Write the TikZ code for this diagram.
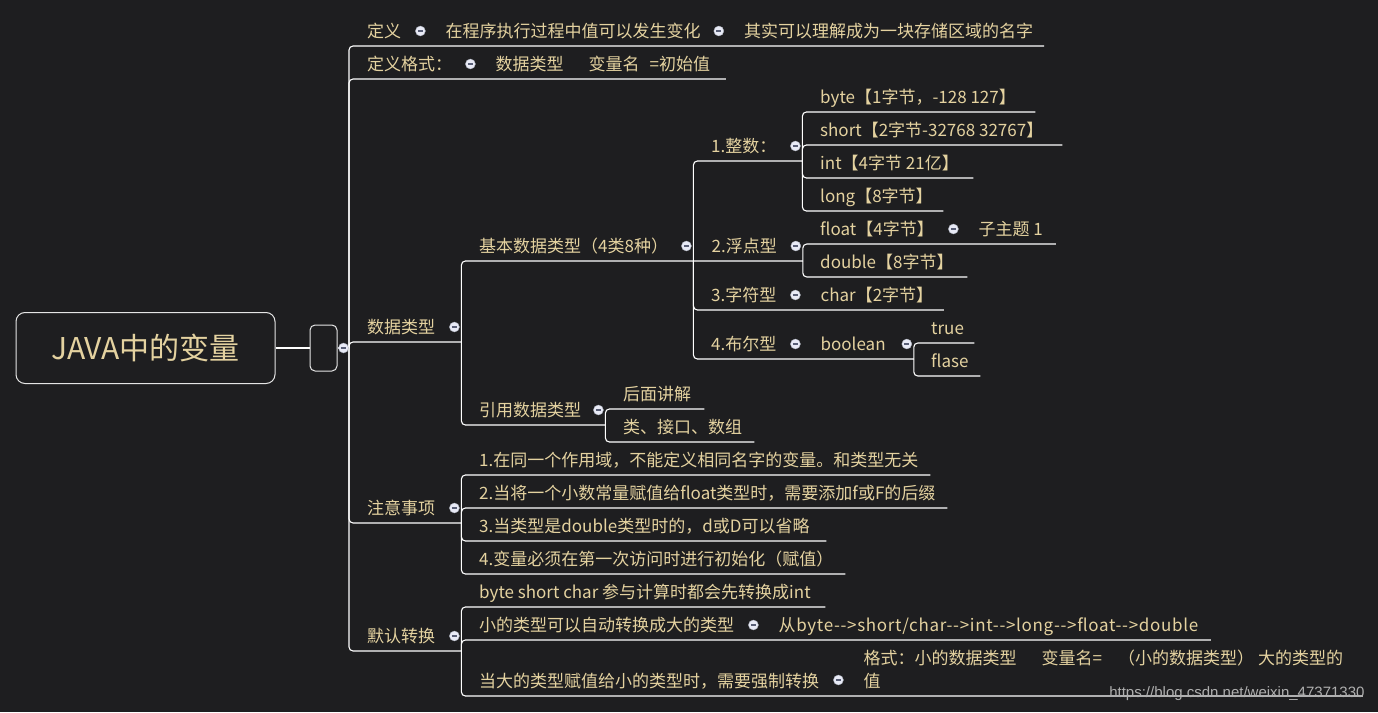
\documentclass[tikz,border=0pt]{standalone}
\usepackage{fontspec}
\setmainfont{Noto Sans CJK SC}
\newfontfamily\urlfont{Liberation Sans}
\usetikzlibrary{calc}
\definecolor{bgdark}{RGB}{30,30,32}
\definecolor{wheat}{RGB}{228,210,160}
\definecolor{foldfill}{RGB}{232,234,246}
\definecolor{foldbar}{RGB}{88,94,118}
\definecolor{markgray}{RGB}{175,175,175}
% topic text padded to the length of its underline
\newcommand{\tpc}[2]{\makebox[#1pt][l]{\hspace*{18pt}#2}}
\tikzset{
  topic/.style={anchor=south west, inner sep=0pt, text height=14pt, text depth=8pt, text=wheat},
  branch/.style={draw=white, line width=1.1pt, rounded corners=4pt},
  fold/.style={circle, fill=foldfill, draw=foldbar!50, line width=0.4pt, inner sep=0pt, minimum size=10pt,
    path picture={\draw[foldbar, line width=1.3pt] ([xshift=-2.6pt]path picture bounding box.center) -- ([xshift=2.6pt]path picture bounding box.center);}}
}

\begin{document}
\begin{tikzpicture}[x=1pt, y=-1pt, every node/.style={font=\fontsize{17}{23}\selectfont}]
\useasboundingbox (0,0) rectangle (1378,712);
\fill[bgdark] (0,0) rectangle (1378,712);

% root and hub
\node[draw=white!90!black, line width=1pt, fill=bgdark, rounded corners=9pt, minimum width=259pt, minimum height=71pt,
      text=wheat, font=\fontsize{30}{36}\selectfont] (java) at (145.5,348) {JAVA中的变量};
\node[draw=white!90!black, line width=1pt, fill=bgdark, rounded corners=5pt, minimum width=27pt, minimum height=46pt] (hub) at (323.5,348) {};
\coordinate (hubr) at (349,348);

% first level
\node[topic] (dy) at (349,46) {\tpc{78}{定义}};
\node[topic] (dy1) at (dy.south east) {\tpc{298}{在程序执行过程中值可以发生变化}};
\node[topic] (dy2) at (dy1.south east) {\tpc{318}{其实可以理解成为一块存储区域的名字}};
\node[topic] (gs) at (349,79) {\tpc{128}{定义格式：}};
\node[topic] (gs1) at (gs.south east) {\tpc{248}{数据类型\hspace{25pt}变量名\hspace{10pt}=初始值}};
\node[topic] (sj) at (349,342) {\tpc{112}{数据类型}};
\node[topic] (zy) at (349,523) {\tpc{112}{注意事项}};
\node[topic] (mr) at (349,651) {\tpc{112}{默认转换}};

% data types
\node[topic] (jb) at (461,261) {\tpc{232}{基本数据类型（4类8种）}};
\node[topic] (yy) at (461,425) {\tpc{144}{引用数据类型}};
\node[topic] (zs) at (693,161) {\tpc{109}{1.整数：}};
\node[topic] (fd) at (jb.south east) {\tpc{109}{2.浮点型}};
\node[topic] (zf) at (693,310) {\tpc{109}{3.字符型}};
\node[topic] (be) at (693,359) {\tpc{109}{4.布尔型}};
\node[topic] (byte) at (802,112) {\tpc{233}{byte【1字节，-128 127】}};
\node[topic] (short) at (802,145) {\tpc{260}{short【2字节-32768 32767】}};
\node[topic] (int) at (802,178) {\tpc{171}{int【4字节 21亿】}};
\node[topic] (long) at (802,211) {\tpc{141}{long【8字节】}};
\node[topic] (flt) at (802,244) {\tpc{158}{float【4字节】}};
\node[topic] (zzt) at (flt.south east) {\tpc{95}{子主题 1}};
\node[topic] (dbl) at (802,277) {\tpc{165}{double【8字节】}};
\node[topic] (chr) at (zf.south east) {\tpc{141}{char【2字节】}};
\node[topic] (bool) at (be.south east) {\tpc{111}{boolean}};
\node[topic] (tru) at (913,343) {\tpc{61}{true}};
\node[topic] (fls) at (913,376) {\tpc{67}{flase}};
\node[topic] (hm) at (605,409) {\tpc{99}{后面讲解}};
\node[topic] (lj) at (605,442) {\tpc{149}{类、接口、数组}};

% notes
\node[topic] (zy1) at (461,475) {\tpc{469}{1.在同一个作用域，不能定义相同名字的变量。和类型无关}};
\node[topic] (zy2) at (461,508) {\tpc{486}{2.当将一个小数常量赋值给float类型时，需要添加f或F的后缀}};
\node[topic] (zy3) at (461,541) {\tpc{365}{3.当类型是double类型时的，d或D可以省略}};
\node[topic] (zy4) at (461,574) {\tpc{384}{4.变量必须在第一次访问时进行初始化（赋值）}};

% conversion
\node[topic] (mr1) at (461,607) {\tpc{364}{byte short char 参与计算时都会先转换成int}};
\node[topic] (mr2) at (461,640) {\tpc{299}{小的类型可以自动转换成大的类型}};
\node[topic] (mr2a) at (mr2.south east) {\tpc{450}{\addfontfeature{LetterSpace=4}从byte-{}->short/char-{}->int-{}->long-{}->float-{}->double}};
\node[topic] (mr3) at (461,696) {\tpc{384}{当大的类型赋值给小的类型时，需要强制转换}};
\node[topic] (mr3a) at (mr3.south east) {\tpc{517}{\begin{tabular}[b]{@{}l@{}}格式：小的数据类型\hspace{25pt}变量名=\hspace{16pt}（小的数据类型）\hspace{4pt}大的类型的\\值\end{tabular}}};

% connectors
\draw[branch] (java.east) -- (hub.west);
\draw[branch] (hub.east) -- (hubr);
\draw[branch] (hubr) |- (dy.south east) -- (dy1.south east) -- (dy2.south east);
\draw[branch] (hubr) |- (gs.south east) -- (gs1.south east);
\draw[branch] (hubr) |- (sj.south east);
\draw[branch] (hubr) |- (zy.south east);
\draw[branch] (hubr) |- (mr.south east);
\draw[branch] (sj.south east) |- (jb.south east) -- (fd.south east);
\draw[branch] (sj.south east) |- (yy.south east);
\draw[branch] (jb.south east) |- (zs.south east);
\draw[branch] (jb.south east) |- (zf.south east) -- (chr.south east);
\draw[branch] (jb.south east) |- (be.south east) -- (bool.south east);
\draw[branch] (zs.south east) |- (byte.south east);
\draw[branch] (zs.south east) |- (short.south east);
\draw[branch] (zs.south east) |- (int.south east);
\draw[branch] (zs.south east) |- (long.south east);
\draw[branch] (fd.south east) |- (flt.south east) -- (zzt.south east);
\draw[branch] (fd.south east) |- (dbl.south east);
\draw[branch] (bool.south east) |- (tru.south east);
\draw[branch] (bool.south east) |- (fls.south east);
\draw[branch] (yy.south east) |- (hm.south east);
\draw[branch] (yy.south east) |- (lj.south east);
\draw[branch] (zy.south east) |- (zy1.south east);
\draw[branch] (zy.south east) |- (zy2.south east);
\draw[branch] (zy.south east) |- (zy3.south east);
\draw[branch] (zy.south east) |- (zy4.south east);
\draw[branch] (mr.south east) |- (mr1.south east);
\draw[branch] (mr.south east) |- (mr2.south east) -- (mr2a.south east);
\draw[branch] (mr.south east) |- (mr3.south east) -- (mr3a.south east);

% collapse marks
\node[fold] (hubf) at ([xshift=6pt]hub.east) {};
\node[fold] (dyf) at ([xshift=-7pt,yshift=15pt]dy.south east) {};
\node[fold] (dy1f) at ([xshift=-7pt,yshift=15pt]dy1.south east) {};
\node[fold] (gsf) at ([xshift=-7pt,yshift=15pt]gs.south east) {};
\node[fold] (sjf) at ([xshift=-7pt,yshift=15pt]sj.south east) {};
\node[fold] (zyf) at ([xshift=-7pt,yshift=15pt]zy.south east) {};
\node[fold] (mrf) at ([xshift=-7pt,yshift=15pt]mr.south east) {};
\node[fold] (jbf) at ([xshift=-7pt,yshift=15pt]jb.south east) {};
\node[fold] (yyf) at ([xshift=-7pt,yshift=15pt]yy.south east) {};
\node[fold] (zsf) at ([xshift=-7pt,yshift=15pt]zs.south east) {};
\node[fold] (fdf) at ([xshift=-7pt,yshift=15pt]fd.south east) {};
\node[fold] (zff) at ([xshift=-7pt,yshift=15pt]zf.south east) {};
\node[fold] (bef) at ([xshift=-7pt,yshift=15pt]be.south east) {};
\node[fold] (fltf) at ([xshift=-7pt,yshift=15pt]flt.south east) {};
\node[fold] (boolf) at ([xshift=-7pt,yshift=15pt]bool.south east) {};
\node[fold] (mr2f) at ([xshift=-7pt,yshift=15pt]mr2.south east) {};
\node[fold] (mr3f) at ([xshift=-7pt,yshift=16pt]mr3.south east) {};

\node[anchor=base east, text=markgray, font=\urlfont\fontsize{15}{18}\selectfont] (wm) at (1368,697) {https://blog.csdn.net/weixin\_47371330};
\end{tikzpicture}
\end{document}
